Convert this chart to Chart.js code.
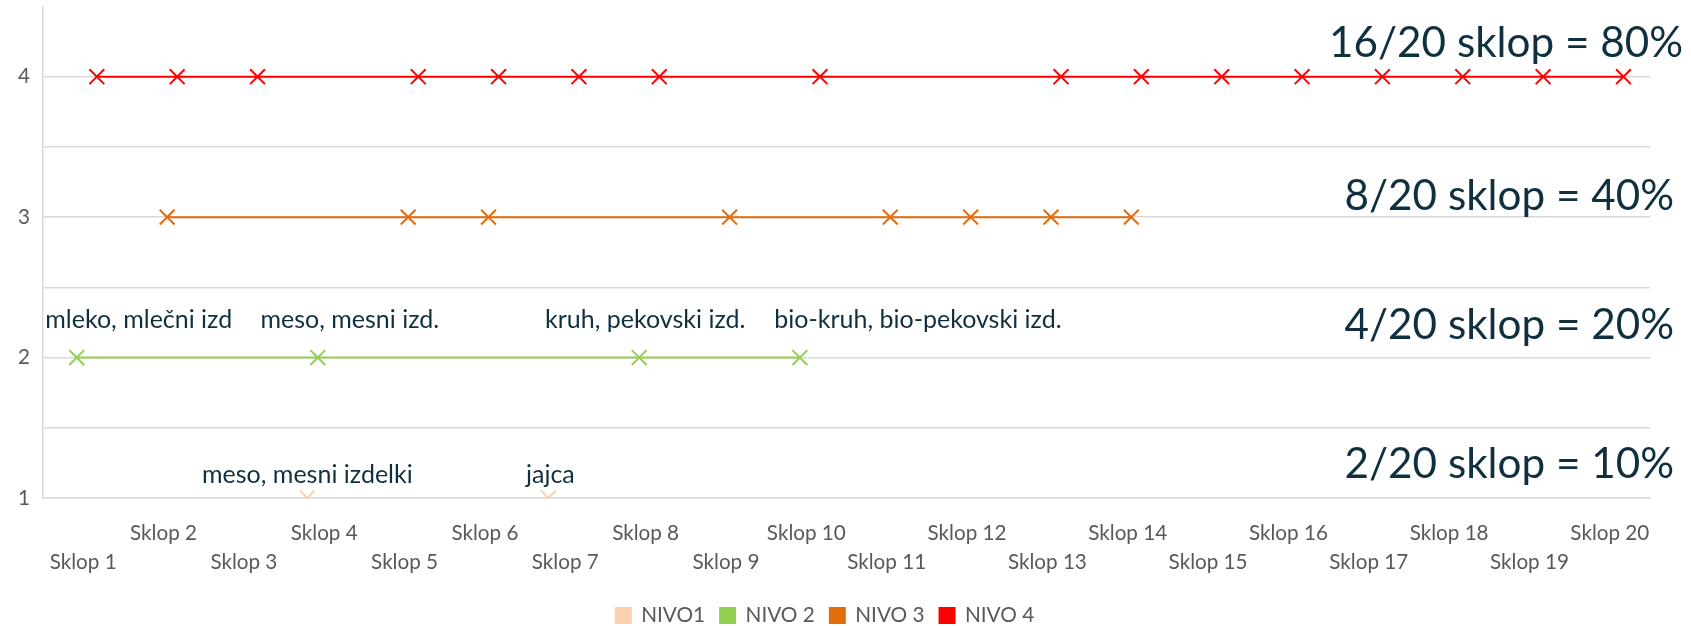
<!DOCTYPE html>
<html><head><meta charset="utf-8">
<script src="https://cdn.jsdelivr.net/npm/chart.js@4.4.1/dist/chart.umd.min.js"></script>
<style>html,body{margin:0;padding:0;background:#fff;overflow:hidden}#wrap{width:1691px;height:626px;position:relative}</style>
</head><body><div id="wrap"><canvas id="c" width="1691" height="626"></canvas></div>
<script>
// ---------- data ----------
const categories = ['Sklop 1','Sklop 2','Sklop 3','Sklop 4','Sklop 5','Sklop 6','Sklop 7','Sklop 8','Sklop 9','Sklop 10',
                    'Sklop 11','Sklop 12','Sklop 13','Sklop 14','Sklop 15','Sklop 16','Sklop 17','Sklop 18','Sklop 19','Sklop 20'];
const seriesNames = ['NIVO1', 'NIVO 2', 'NIVO 3', 'NIVO 4'];
const nivo1 = [null,null,null,1,null,null,1,null,null,null,null,null,null,null,null,null,null,null,null,null];
const nivo2 = [2,null,null,2,null,null,null,2,null,2,null,null,null,null,null,null,null,null,null,null];
const nivo3 = [null,3,null,null,3,3,null,null,3,null,3,3,3,3,null,null,null,null,null,null];
const nivo4 = [4,4,4,null,4,4,4,4,null,4,null,null,4,4,4,4,4,4,4,4];
const nivo1Notes = [null,null,null,'meso, mesni izdelki',null,null,'jajca',null,null,null,null,null,null,null,null,null,null,null,null,null];
const nivo2Notes = ['mleko, mlečni izd',null,null,'meso, mesni izd.',null,null,null,'kruh, pekovski izd.',null,'bio-kruh, bio-pekovski izd.',null,null,null,null,null,null,null,null,null,null];
const summaryTexts = ['16/20 sklop = 80%', '8/20 sklop = 40%', '4/20 sklop = 20%', '2/20 sklop = 10%'];
const yTickValues = [1, 2, 3, 4];

// ---------- style ----------
const colors = ['#FBD0AE', '#92D050', '#E46C0A', '#FF0000'];
const seriesShift = [-0.21, -0.08, 0.045, 0.17];       // horizontal offset of each series inside a category
const summaryLevels = [4.24, 3.15, 2.23, 1.24];         // vertical anchor of the summary texts (value units)
const summaryRightInset = [8, 17, 17, 17];
const nivo2NoteDx = [62, 32, 6, 118];
const nivo1NoteDx = [0, 2];
const NAVY = '#10303f', GREY = '#595959', GRID = '#d9d9d9';
const FAMILY = 'Lato';

const mctx = document.createElement('canvas').getContext('2d');
function fitSize(text, target) { mctx.font = '100px ' + FAMILY; return 100 * target / mctx.measureText(text).width; }
const tickSize = fitSize('Sklop 15', 79);
const noteSize = fitSize('mleko, mlečni izd', 187);
const bigSize = fitSize('16/20 sklop = 80%', 354);
const legendSize = fitSize('NIVO1', 64);

const LEG_PAD = 15, LEG_BOX = 15;
const legendH = LEG_PAD + Math.max(legendSize, LEG_BOX) + 10;
const PLOT_BOTTOM = 498;
const xAxisH = 626 - PLOT_BOTTOM - legendH;

function toPoints(values, k) {
  const out = [];
  values.forEach((v, i) => { if (v !== null) out.push({ x: i + 1 + seriesShift[k], y: v, cat: i }); });
  return out;
}
const allSeries = [nivo1, nivo2, nivo3, nivo4];
const datasets = allSeries.map((vals, k) => ({
  label: seriesNames[k],
  data: toPoints(vals, k),
  borderColor: colors[k],
  backgroundColor: colors[k],
  borderWidth: 2,
  pointStyle: 'crossRot',
  pointRadius: 10.5,
  pointBorderWidth: 2,
  pointBorderColor: colors[k],
  pointBackgroundColor: colors[k],
  showLine: k !== 0,
  tension: 0,
  clip: k === 0 ? 0 : 12
}));

const overlayPlugin = {
  id: 'overlay',
  afterLayout(chart) {
    chart.legend.top += 10; chart.legend.bottom += 10;
  },
  afterDatasetsDraw(chart) {
    const ctx = chart.ctx, ys = chart.scales.y;
    ctx.save();
    ctx.fillStyle = NAVY;
    ctx.textAlign = 'center';
    ctx.textBaseline = 'middle';
    ctx.font = noteSize + 'px ' + FAMILY;
    [[0, nivo1Notes, nivo1NoteDx, -23], [1, nivo2Notes, nivo2NoteDx, -38]].forEach(([di, notes, dxs, dy]) => {
      const meta = chart.getDatasetMeta(di);
      let n = 0;
      meta.data.forEach((el, j) => {
        const note = notes[chart.data.datasets[di].data[j].cat];
        if (note) { ctx.fillText(note, el.x + dxs[n], el.y + dy); n++; }
      });
    });
    ctx.textAlign = 'right';
    ctx.font = bigSize + 'px ' + FAMILY;
    summaryTexts.forEach((t, k) => ctx.fillText(t, chart.width - summaryRightInset[k], ys.getPixelForValue(summaryLevels[k])));
    ctx.restore();
  }
};

new Chart(document.getElementById('c'), {
  type: 'line',
  data: { datasets },
  plugins: [overlayPlugin],
  options: {
    responsive: false, animation: false, devicePixelRatio: 1, events: [],
    layout: { autoPadding: false, padding: { top: 6.5, right: 41, left: 0, bottom: 0 } },
    plugins: {
      tooltip: { enabled: false },
      legend: {
        position: 'bottom',
        labels: { boxWidth: LEG_BOX, boxHeight: LEG_BOX, padding: LEG_PAD, color: GREY,
                  font: { family: FAMILY, size: legendSize } }
      }
    },
    scales: {
      x: {
        type: 'linear', min: 0.5, max: 20.5,
        afterBuildTicks: s => { s.ticks = categories.map((_, i) => ({ value: i + 1 })); },
        afterFit: s => { s.height = xAxisH; s.paddingLeft = 0; s.paddingRight = 0; },
        grid: { display: false, drawTicks: false },
        border: { color: GRID, width: 1.5 },
        ticks: {
          autoSkip: false, maxRotation: 0, minRotation: 0, padding: 21, color: GREY,
          font: { family: FAMILY, size: tickSize, lineHeight: 29 / tickSize },
          callback: v => { const i = Math.round(v) - 1; const t = categories[i]; return i % 2 === 0 ? ['', t] : [t]; }
        }
      },
      y: {
        type: 'linear', min: 1, max: 4.5,
        afterBuildTicks: s => { const t = []; for (let v = 1; v <= 4.5; v += 0.5) t.push({ value: v }); s.ticks = t; },
        afterFit: s => { s.width = 43; s.paddingTop = 0; s.paddingBottom = 0; },
        grid: { color: GRID, lineWidth: 1.5, drawTicks: false },
        border: { color: GRID, width: 1.5 },
        ticks: {
          padding: 13, color: GREY, font: { family: FAMILY, size: tickSize },
          callback: v => v === 4.5 ? null : (yTickValues.includes(v) ? String(v) : '')
        }
      }
    }
  }
});
</script></body></html>
